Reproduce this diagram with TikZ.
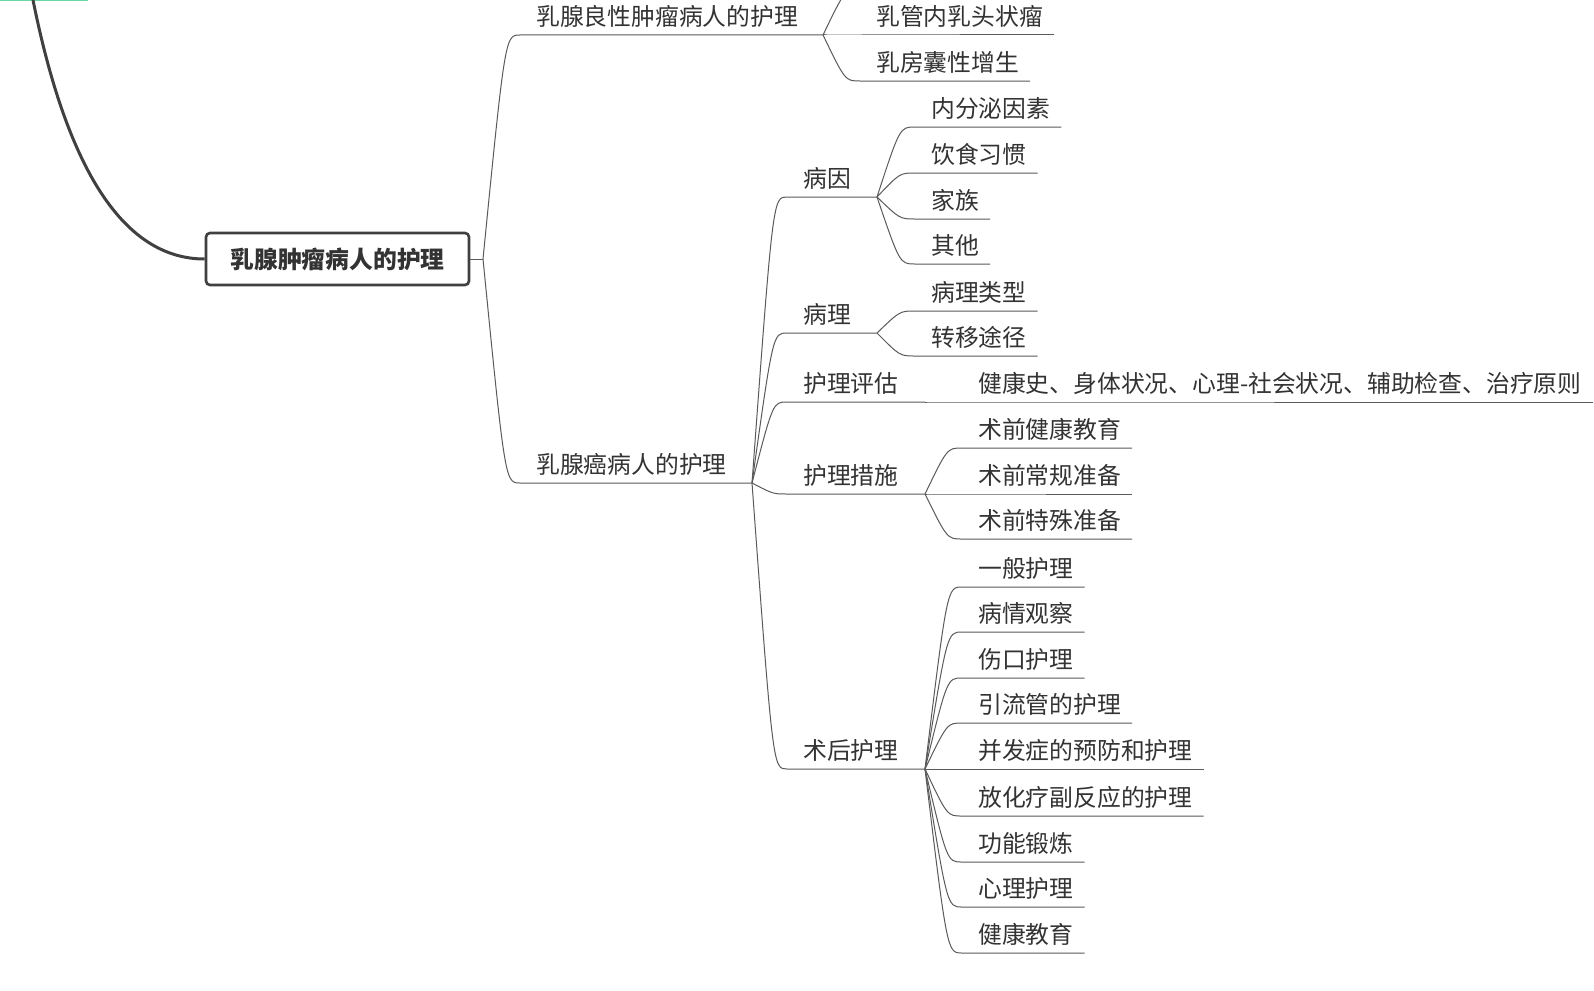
\documentclass[tikz,border=0pt]{standalone}
\usepackage{fontspec}
\newfontfamily\cjk{Noto Sans CJK SC}
\usetikzlibrary{calc}
\definecolor{ink}{HTML}{333333}
\definecolor{wire}{HTML}{5A5A5A}
\definecolor{rootgray}{HTML}{404040}
\definecolor{mint}{HTML}{6AD6A4}
\begin{document}
\begin{tikzpicture}[x=1pt,y=-1pt,
  topic/.style={inner sep=0pt, anchor=south west, text depth=9pt, text=ink, font=\cjk\fontsize{23.8}{28}\selectfont},
  rootbox/.style={draw=rootgray, line width=2.6pt, rounded corners=4pt, fill=white, minimum width=263pt, minimum height=52pt, inner sep=0pt, text=ink, font=\cjk\bfseries\fontsize{23.8}{28}\selectfont},
  link/.style={draw=wire, line width=1pt},
  branch/.style={to path={let \p1=(\tikztostart), \p2=(\tikztotarget) in .. controls ({\x1+0.6*(\x2-\x1)},\y2) and ({\x1+0.6*(\x2-\x1)},\y2) .. (\tikztotarget)}}]
  \clip (0,0) rectangle (1594,990);
  \fill[white] (0,0) rectangle (1594,990);
  % pieces of the map above the crop
  \draw[mint, line width=2pt] (0,0) -- (88,0);
  \coordinate (top) at (33,0);
  \coordinate (ben-up) at (860,-11);
  % forks
  \coordinate (rf) at (483,259);
  \coordinate (f-ben) at (823,35);
  \coordinate (f-ca) at (752,483);
  \coordinate (f-by) at (877,197);
  \coordinate (f-bl) at (877,333);
  \coordinate (f-pg) at (925,402);
  \coordinate (f-cs) at (925,494);
  \coordinate (f-sh) at (925,769);
  % topics
  \node[rootbox] (root) at (337.5,259) {乳腺肿瘤病人的护理};
  \node[topic] (ben) at (536,35) {乳腺良性肿瘤病人的护理};
  \node[topic] (ca) at (536,483) {乳腺癌病人的护理};
  \node[topic] (rg) at (876,35) {乳管内乳头状瘤};
  \node[topic] (rn) at (876,81) {乳房囊性增生};
  \node[topic] (by) at (803,197) {病因};
  \node[topic] (bl) at (803,333) {病理};
  \node[topic] (pg) at (803,402) {护理评估};
  \node[topic] (cs) at (803,494) {护理措施};
  \node[topic] (sh) at (803,769) {术后护理};
  \node[topic] (by1) at (931,127) {内分泌因素};
  \node[topic] (by2) at (931,173) {饮食习惯};
  \node[topic] (by3) at (931,219) {家族};
  \node[topic] (by4) at (931,264) {其他};
  \node[topic] (bl1) at (931,311) {病理类型};
  \node[topic] (bl2) at (931,356) {转移途径};
  \node[topic] (pg1) at (978,402) {健康史、身体状况、心理-社会状况、辅助检查、治疗原则};
  \node[topic] (cs1) at (978,448) {术前健康教育};
  \node[topic] (cs2) at (978,494) {术前常规准备};
  \node[topic] (cs3) at (978,539) {术前特殊准备};
  \node[topic] (sh1) at (978,587) {一般护理};
  \node[topic] (sh2) at (978,632) {病情观察};
  \node[topic] (sh3) at (978,678) {伤口护理};
  \node[topic] (sh4) at (978,723) {引流管的护理};
  \node[topic] (sh5) at (978,769) {并发症的预防和护理};
  \node[topic] (sh6) at (978,816) {放化疗副反应的护理};
  \node[topic] (sh7) at (978,862) {功能锻炼};
  \node[topic] (sh8) at (978,907) {心理护理};
  \node[topic] (sh9) at (978,953) {健康教育};
  % connectors
  \draw[rootgray, line width=3pt] (top) .. controls (67.7,172.7) and (125,259) .. (root.west);
  \draw[link] (root.east) -- (rf);
  \draw[link] (rf) to[branch] ([xshift=-16pt]ben.south west) -- (f-ben);
  \draw[link] (rf) to[branch] ([xshift=-16pt]ca.south west) -- (f-ca);
  \draw[link] (f-ben) to[branch] (ben-up);
  \draw[link] (f-ben) to[branch] ([xshift=-16pt]rg.south west) -- ([xshift=11pt]rg.south east);
  \draw[link] (f-ben) to[branch] ([xshift=-16pt]rn.south west) -- ([xshift=11pt]rn.south east);
  \draw[link] (f-ca) to[branch] ([xshift=-16pt]by.south west) -- (f-by);
  \draw[link] (f-ca) to[branch] ([xshift=-16pt]bl.south west) -- (f-bl);
  \draw[link] (f-ca) to[branch] ([xshift=-16pt]pg.south west) -- (f-pg);
  \draw[link] (f-ca) to[branch] ([xshift=-16pt]cs.south west) -- (f-cs);
  \draw[link] (f-ca) to[branch] ([xshift=-16pt]sh.south west) -- (f-sh);
  \draw[link] (f-by) to[branch] ([xshift=-16pt]by1.south west) -- ([xshift=11pt]by1.south east);
  \draw[link] (f-by) to[branch] ([xshift=-16pt]by2.south west) -- ([xshift=11pt]by2.south east);
  \draw[link] (f-by) to[branch] ([xshift=-16pt]by3.south west) -- ([xshift=11pt]by3.south east);
  \draw[link] (f-by) to[branch] ([xshift=-16pt]by4.south west) -- ([xshift=11pt]by4.south east);
  \draw[link] (f-bl) to[branch] ([xshift=-16pt]bl1.south west) -- ([xshift=11pt]bl1.south east);
  \draw[link] (f-bl) to[branch] ([xshift=-16pt]bl2.south west) -- ([xshift=11pt]bl2.south east);
  \draw[link] (f-pg) to[branch] ([xshift=-16pt]pg1.south west) -- ([xshift=11pt]pg1.south east);
  \draw[link] (f-cs) to[branch] ([xshift=-16pt]cs1.south west) -- ([xshift=11pt]cs1.south east);
  \draw[link] (f-cs) to[branch] ([xshift=-16pt]cs2.south west) -- ([xshift=11pt]cs2.south east);
  \draw[link] (f-cs) to[branch] ([xshift=-16pt]cs3.south west) -- ([xshift=11pt]cs3.south east);
  \draw[link] (f-sh) to[branch] ([xshift=-16pt]sh1.south west) -- ([xshift=11pt]sh1.south east);
  \draw[link] (f-sh) to[branch] ([xshift=-16pt]sh2.south west) -- ([xshift=11pt]sh2.south east);
  \draw[link] (f-sh) to[branch] ([xshift=-16pt]sh3.south west) -- ([xshift=11pt]sh3.south east);
  \draw[link] (f-sh) to[branch] ([xshift=-16pt]sh4.south west) -- ([xshift=11pt]sh4.south east);
  \draw[link] (f-sh) to[branch] ([xshift=-16pt]sh5.south west) -- ([xshift=11pt]sh5.south east);
  \draw[link] (f-sh) to[branch] ([xshift=-16pt]sh6.south west) -- ([xshift=11pt]sh6.south east);
  \draw[link] (f-sh) to[branch] ([xshift=-16pt]sh7.south west) -- ([xshift=11pt]sh7.south east);
  \draw[link] (f-sh) to[branch] ([xshift=-16pt]sh8.south west) -- ([xshift=11pt]sh8.south east);
  \draw[link] (f-sh) to[branch] ([xshift=-16pt]sh9.south west) -- ([xshift=11pt]sh9.south east);
\end{tikzpicture}
\end{document}
